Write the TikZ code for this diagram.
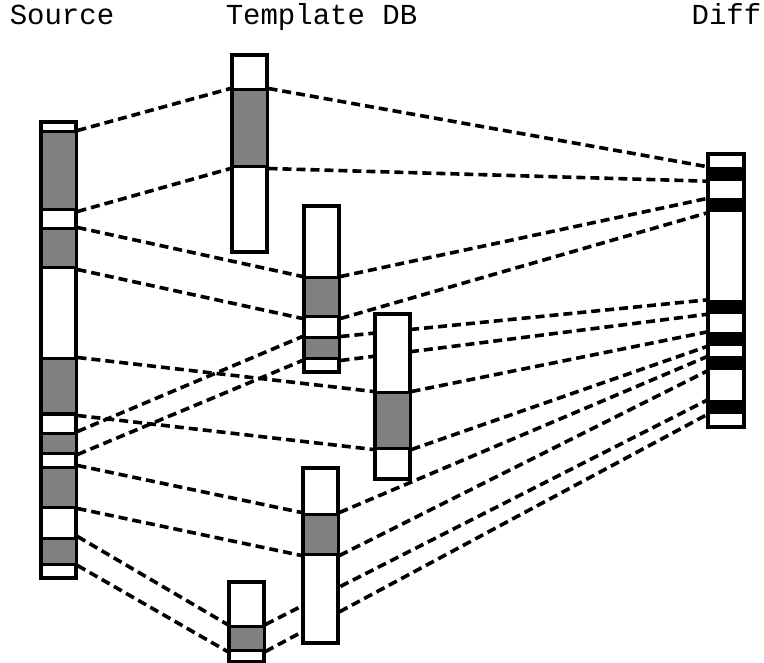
\documentclass[tikz,border=0pt]{standalone}
\usepackage{fontspec}
\newfontfamily\labelfont{Liberation Mono}
\usetikzlibrary{backgrounds}

\tikzset{
	bar/.style={draw, line width=4pt, fill=white, minimum width=35pt, inner sep=0pt},
	cell/.style={draw, line width=3pt, fill=gray, minimum width=35pt, inner sep=0pt},
	band/.style={fill=black, minimum width=36pt, minimum height=14pt, inner sep=0pt},
	link/.style={line width=3.6pt, dash pattern=on 9pt off 5pt},
	title/.style={anchor=base, inner sep=0pt, font=\labelfont\fontsize{29}{34}\selectfont}
}

\begin{document}
\begin{tikzpicture}[x=1pt, y=-1pt]
	\useasboundingbox (0, 0) rectangle (764, 663);

	% column titles
	\node[title] (srctitle) at (62, 25) {Source};
	\node[title] (dbtitle) at (321.5, 25) {Template DB};
	\node[title] (diftitle) at (726.5, 25) {Diff};

	% source
	\node[bar, minimum height=456pt] (src) at (58.5, 350) {};
	\node[cell, minimum height=78pt] (src1) at (58.5, 171) {};
	\node[cell, minimum height=39pt] (src2) at (58.5, 248.5) {};
	\node[cell, minimum height=55pt] (src3) at (58.5, 386.5) {};
	\node[cell, minimum height=20pt] (src4) at (58.5, 443) {};
	\node[cell, minimum height=40pt] (src5) at (58.5, 487) {};
	\node[cell, minimum height=26pt] (src6) at (58.5, 551) {};

	% template db
	\node[bar, minimum height=197pt] (db1) at (249.5, 153.5) {};
	\node[cell, minimum height=77pt] (db1a) at (249.5, 128.5) {};

	\node[bar, minimum height=166pt] (db2) at (321.5, 289) {};
	\node[cell, minimum height=39pt] (db2a) at (321.5, 297.5) {};
	\node[cell, minimum height=21pt] (db2b) at (321.5, 348.5) {};

	\node[bar, minimum height=165pt] (db3) at (392.5, 396.5) {};
	\node[cell, minimum height=55pt] (db3a) at (392.5, 420.5) {};

	\node[bar, minimum height=175pt] (db4) at (320.5, 555.5) {};
	\node[cell, minimum height=40pt] (db4a) at (320.5, 534) {};

	\node[bar, minimum height=80pt] (db5) at (246.5, 622) {};
	\node[cell, minimum height=24pt] (db5a) at (246.5, 638) {};

	% diff
	\node[bar, minimum width=36pt, minimum height=273pt] (dif) at (726, 290.5) {};
	\node[band] (dif1) at (726, 174) {};
	\node[band] (dif2) at (726, 205.5) {};
	\node[band] (dif3) at (726, 307) {};
	\node[band] (dif4) at (726, 339) {};
	\node[band] (dif5) at (726, 363.5) {};
	\node[band] (dif6) at (726, 407) {};

	\begin{scope}[on background layer]
		% source -> template db
		\draw[link] (src1.north east) -- (db1a.north west);
		\draw[link] (src1.south east) -- (db1a.south west);
		\draw[link] (src2.north east) -- (db2a.north west);
		\draw[link] (src2.south east) -- (db2a.south west);
		\draw[link] (src3.north east) -- (db3a.north west);
		\draw[link] (src3.south east) -- (db3a.south west);
		\draw[link] (src4.north east) -- (db2b.north west);
		\draw[link] (src4.south east) -- (db2b.south west);
		\draw[link] (src5.north east) -- (db4a.north west);
		\draw[link] (src5.south east) -- (db4a.south west);
		\draw[link] (src6.north east) -- (db5a.north west);
		\draw[link] (src6.south east) -- (db5a.south west);

		% template db -> diff
		\draw[link] (db1a.north east) -- (dif1.north west);
		\draw[link] (db1a.south east) -- (dif1.south west);
		\draw[link] (db2a.north east) -- (dif2.north west);
		\draw[link] (db2a.south east) -- (dif2.south west);
		\draw[link] (db2b.north east) -- (dif3.north west);
		\draw[link] (db2b.south east) -- (dif3.south west);
		\draw[link] (db3a.north east) -- (dif4.north west);
		\draw[link] (db3a.south east) -- (dif4.south west);
		\draw[link] (db4a.north east) -- (dif5.north west);
		\draw[link] (db4a.south east) -- (dif5.south west);
		\draw[link] (db5a.north east) -- (dif6.north west);
		\draw[link] (db5a.south east) -- (dif6.south west);
	\end{scope}
\end{tikzpicture}
\end{document}
